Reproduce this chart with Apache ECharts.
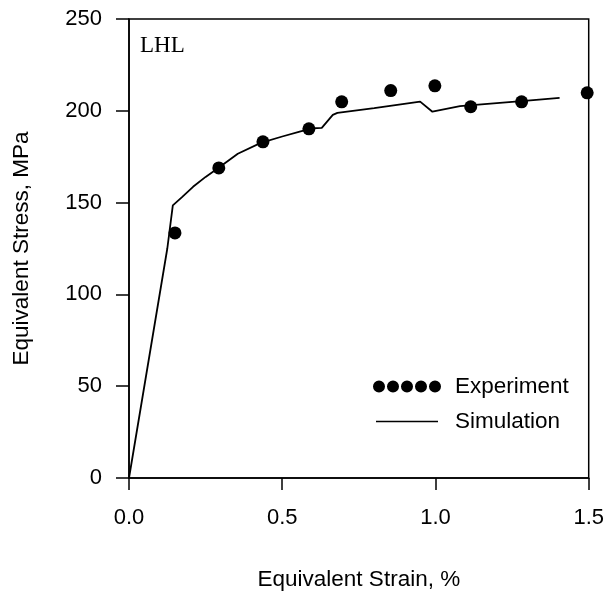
<!DOCTYPE html>
<html>
<head>
<meta charset="utf-8">
<script src="https://cdn.jsdelivr.net/npm/echarts@6/dist/echarts.min.js"></script>
<style>
  html, body { margin: 0; padding: 0; background: #fff; }
  #chart { width: 607px; height: 600px; }
</style>
</head>
<body>
<div id="chart"></div>
<script>
// experiment points (strain %, stress MPa)
var expStrain = [0.15, 0.293, 0.437, 0.587, 0.694, 0.854, 0.998, 1.115, 1.281, 1.495];
var expStress = [133.5, 168.9, 183.1, 190.2, 204.9, 211.0, 213.6, 202.2, 204.9, 209.8];

// simulation curve
var simStrain = [0, 0.07, 0.125, 0.143, 0.173, 0.209, 0.25, 0.297, 0.355, 0.43, 0.5, 0.557, 0.6, 0.629, 0.665, 0.68, 0.8, 0.95, 0.99, 1.08, 1.2, 1.3, 1.405];
var simStress = [0, 70, 125, 148.5, 153, 158.6, 164, 169.5, 176.6, 182.5, 186, 188.6, 190.5, 190.7, 197.8, 198.9, 201.5, 205, 199.5, 202.5, 204.2, 205.5, 207];

var xTicks = [0, 0.5, 1.0, 1.5];
var yTicks = [0, 50, 100, 150, 200, 250];

var font = 'Liberation Sans, Arial, sans-serif';

function pairs(xs, ys) {
  var out = [];
  for (var i = 0; i < xs.length; i++) out.push([xs[i], ys[i]]);
  return out;
}

// five dots for the legend
var dotsIcon = 'path://';
for (var k = 0; k < 5; k++) {
  var cx = k * 14;
  dotsIcon += 'M' + cx + ',6a6,6 0 1,0 12,0a6,6 0 1,0 -12,0z';
}
// thin line, the moveTo's keep the box tall so it is not stretched
var lineIcon = 'path://M0,0L0,0M5,5.3L67,5.3L67,6.8L5,6.8zM72,12L72,12';

var chart = echarts.init(document.getElementById('chart'));
var option = {
  backgroundColor: '#fff',
  animation: false,
  grid: {
    left: 129, right: 18, top: 19, bottom: 122,
    show: true, borderColor: '#000', borderWidth: 1.5
  },
  xAxis: {
    type: 'value',
    min: xTicks[0], max: xTicks[xTicks.length - 1], interval: 0.5,
    name: 'Equivalent Strain, %',
    nameLocation: 'middle', nameGap: 90,
    nameTextStyle: { color: '#000', fontFamily: font, fontSize: 22.5 },
    axisLine: { lineStyle: { color: '#000', width: 1.5 } },
    axisTick: { show: true, inside: false, length: 12, lineStyle: { color: '#000', width: 1.5 } },
    axisLabel: {
      color: '#000', fontFamily: font, fontSize: 22, margin: 29,
      formatter: function (v) { return v.toFixed(1); }
    },
    splitLine: { show: false }
  },
  yAxis: {
    type: 'value',
    min: yTicks[0], max: yTicks[yTicks.length - 1], interval: 50,
    name: 'Equivalent Stress, MPa',
    nameLocation: 'middle', nameGap: 96,
    nameTextStyle: { color: '#000', fontFamily: font, fontSize: 22.5 },
    axisLine: { lineStyle: { color: '#000', width: 1.5 } },
    axisTick: { show: true, inside: false, length: 13, lineStyle: { color: '#000', width: 1.5 } },
    axisLabel: { color: '#000', fontFamily: font, fontSize: 22, margin: 27 },
    splitLine: { show: false }
  },
  legend: {
    orient: 'vertical',
    left: 366, top: 370,
    itemWidth: 72, itemHeight: 12, itemGap: 12,
    textStyle: { color: '#000', fontFamily: font, fontSize: 22.5, padding: [0, 0, 0, 7] },
    data: [
      { name: 'Experiment', icon: dotsIcon },
      { name: 'Simulation', icon: lineIcon }
    ]
  },
  graphic: [{
    type: 'text',
    left: 140, top: 34,
    style: { text: 'LHL', fill: '#000', font: '23px "Liberation Serif", "Times New Roman", serif' }
  }],
  series: [
    {
      name: 'Simulation',
      type: 'line',
      data: pairs(simStrain, simStress),
      symbol: 'none',
      lineStyle: { color: '#000', width: 1.8 },
      itemStyle: { color: '#000' }
    },
    {
      name: 'Experiment',
      type: 'scatter',
      data: pairs(expStrain, expStress),
      symbol: 'circle',
      symbolSize: 13,
      clip: false,
      itemStyle: { color: '#000', opacity: 1 }
    }
  ]
};
chart.setOption(option);
</script>
</body>
</html>
